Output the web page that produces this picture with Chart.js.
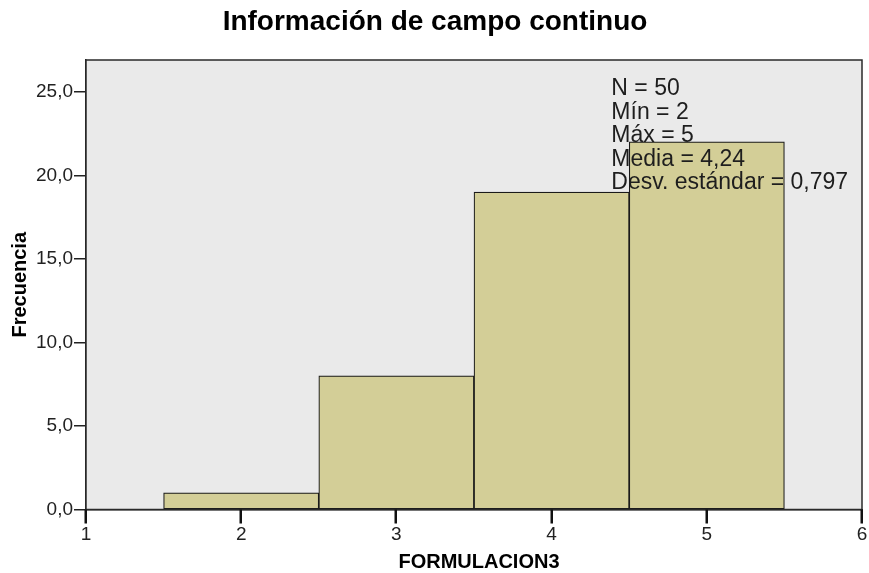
<!DOCTYPE html>
<html>
<head>
<meta charset="utf-8">
<script src="https://cdn.jsdelivr.net/npm/chart.js@4/dist/chart.umd.min.js"></script>
<style>
html,body{margin:0;padding:0;background:#fff;}
#wrap{width:869px;height:573px;position:relative;}
</style>
</head>
<body>
<div id="wrap"><canvas id="c" width="869" height="573"></canvas></div>
<script>
const titleText = "Información de campo continuo";
const xTitle = "FORMULACION3";
const yTitle = "Frecuencia";
const binCenters = [2, 3, 4, 5];
const frequencies = [1, 8, 19, 22];
const statLines = ["N = 50", "Mín = 2", "Máx = 5", "Media = 4,24", "Desv. estándar = 0,797"];
const xMin = 1, xMax = 6;
const yMin = 0, yMax = 26.9;

const FONT = "'Liberation Sans', Arial, sans-serif";

const framePlugin = {
  id: 'frame',
  beforeDatasetsDraw(chart) {
    const {ctx, chartArea: a} = chart;
    ctx.save();
    ctx.fillStyle = '#EAEAEA';
    ctx.fillRect(a.left, a.top, a.right - a.left, a.bottom - a.top);
    ctx.restore();
  },
  afterDraw(chart) {
    const {ctx, chartArea: a} = chart;
    const xs = chart.scales.x;
    const bottom = Number(a.bottom);
    ctx.save();
    ctx.strokeStyle = '#2a2a2a';
    ctx.lineWidth = 1.5;
    ctx.strokeRect(a.left, a.top, a.right - a.left, a.bottom - a.top);
    // x tick marks, at the scale's own tick positions
    ctx.fillStyle = '#111';
    xs.ticks.forEach(t => {
      const px = Math.round(xs.getPixelForValue(t.value));
      ctx.fillRect(px - 1.5, bottom, 2.5, 14);
    });
    // stats text
    ctx.fillStyle = '#1e1e1e';
    ctx.font = "23px " + FONT;
    ctx.textBaseline = 'middle';
    ctx.textAlign = 'left';
    const x0 = a.left + (a.right - a.left) * 0.677;
    statLines.forEach((s, i) => ctx.fillText(s, x0, a.top + 29 + i * 23.5));
    // title
    ctx.font = "bold 28px " + FONT;
    ctx.textAlign = 'center';
    ctx.fillStyle = '#000';
    ctx.fillText(titleText, 435, 22);
    // axis titles
    ctx.font = "bold 20px " + FONT;
    ctx.fillText(xTitle, (a.left + a.right) / 2 + 5, 562);
    ctx.translate(20, (a.top + a.bottom) / 2);
    ctx.rotate(-Math.PI / 2);
    ctx.fillText(yTitle, 0, 0);
    ctx.restore();
  }
};

new Chart(document.getElementById('c'), {
  type: 'bar',
  data: {
    datasets: [{
      data: binCenters.map((x, i) => ({x: x, y: frequencies[i]})),
      backgroundColor: '#D3CE97',
      borderColor: '#1a1a1a',
      borderWidth: 1.2,
      borderSkipped: false,
      barPercentage: 1,
      categoryPercentage: 1
    }]
  },
  options: {
    responsive: false,
    animation: false,
    layout: {padding: {top: 60, right: 7, left: 0, bottom: 0}},
    plugins: {legend: {display: false}, tooltip: {enabled: false}, title: {display: false}},
    scales: {
      x: {
        type: 'linear',
        min: xMin, max: xMax,
        offset: false,
        afterFit(s) { s.height = 63.5; s.paddingLeft = 0; s.paddingRight = 0; },
        ticks: {stepSize: 1, color: '#222', font: {family: FONT, size: 19}, padding: 14, maxRotation: 0,
                callback: v => String(v)},
        grid: {display: false, drawTicks: false},
        border: {display: true, color: '#222', width: 1.5}
      },
      y: {
        min: yMin, max: yMax,
        afterFit(s) { s.width = 86; },
        afterBuildTicks(s) { s.ticks = s.ticks.filter(t => Math.abs(t.value % 5) < 1e-9); },
        ticks: {stepSize: 5, color: '#222', font: {family: FONT, size: 19}, padding: 1,
                callback: v => v.toFixed(1).replace('.', ',')},
        grid: {display: true, drawOnChartArea: false, drawTicks: true, tickLength: 12, color: '#222', lineWidth: 1.5},
        border: {display: true, color: '#222', width: 1.5}
      }
    }
  },
  plugins: [framePlugin]
});
</script>
</body>
</html>
